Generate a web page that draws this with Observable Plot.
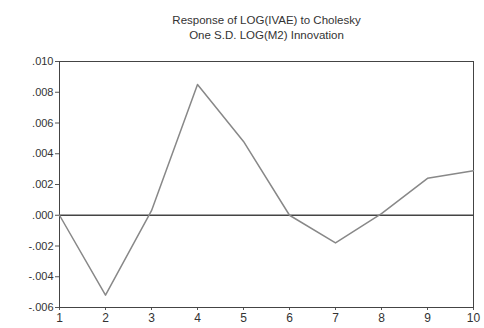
<!DOCTYPE html>
<html><head><meta charset="utf-8">
<script src="https://cdn.jsdelivr.net/npm/d3@7"></script>
<script src="https://cdn.jsdelivr.net/npm/@observablehq/plot@0.6"></script>
<style>body{margin:0;background:#fff;} svg{display:block;}</style>
</head><body><div id="chart"></div>
<script>
const periods = [1,2,3,4,5,6,7,8,9,10];
const response = [0.0000,-0.0052,0.0003,0.0085,0.0048,0.0000,-0.0018,0.0001,0.0024,0.0029];
const yTicks = [-0.006,-0.004,-0.002,0,0.002,0.004,0.006,0.008,0.010];
const titleLines = ["Response of LOG(IVAE) to Cholesky","One S.D. LOG(M2) Innovation"];

const data = periods.map((p,i)=>({p, v: response[i]}));
const fmt = d => { const s = d3.format(".3f")(Math.abs(d)).replace(/^0\./, "."); return d < 0 ? "-" + s : s; };

const chart = Plot.plot({
  width: 484, height: 328,
  marginTop: 61, marginBottom: 21, marginLeft: 59, marginRight: 11,
  style: {fontFamily: "'Liberation Sans', Arial, sans-serif", fontSize: "11px", color: "#333", background: "#fff"},
  x: {domain: [1,10], ticks: periods, tickFormat: d => String(d), tickSize: 3, label: null},
  y: {domain: [-0.006, 0.010], ticks: yTicks, tickFormat: fmt, tickSize: 4, label: null},
  marks: [
    Plot.axisX({ticks: periods, tickSize: 3, tickPadding: 3, fontSize: 12, stroke: "#555", tickFormat: d => String(d)}),
    Plot.axisY({ticks: yTicks, tickSize: 4, tickPadding: 2, fontSize: 11, stroke: "#555", tickFormat: fmt}),
    Plot.frame({stroke: "#444", strokeWidth: 1}),
    Plot.ruleY([0], {stroke: "#444", strokeWidth: 1.5}),
    Plot.line(data, {x: "p", y: "v", stroke: "#888", strokeWidth: 1.5}),
    Plot.text([titleLines[0]], {text: d => d, frameAnchor: "top", dy: -46, fontSize: 11.5, fill: "#333"}),
    Plot.text([titleLines[1]], {text: d => d, frameAnchor: "top", dy: -31, fontSize: 11.5, fill: "#333"})
  ]
});
document.getElementById("chart").appendChild(chart);
</script>
</body></html>
